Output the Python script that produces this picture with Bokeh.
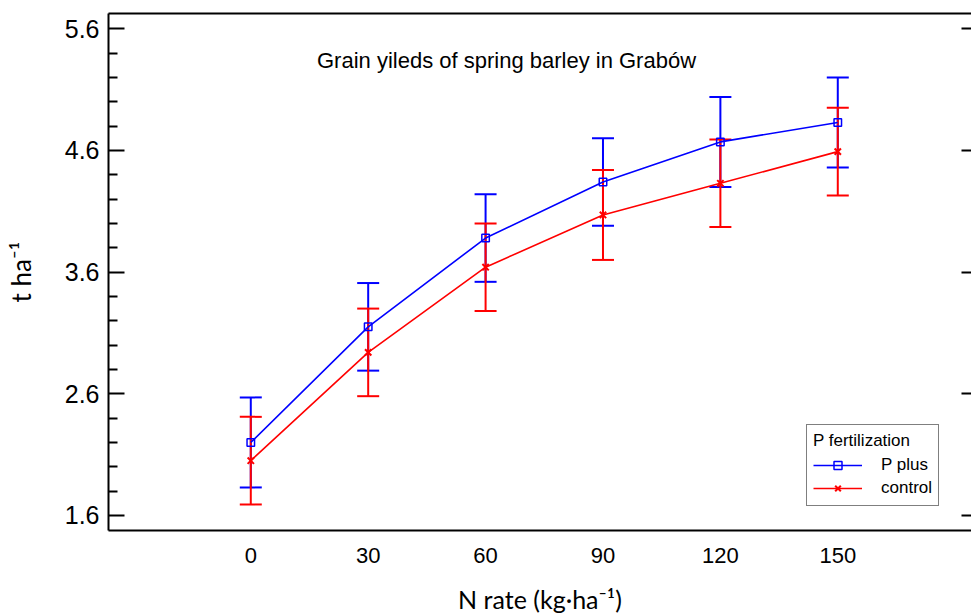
from bokeh.plotting import figure
from bokeh.models import (Range1d, LinearAxis, FixedTicker, Whisker, TeeHead, ColumnDataSource,
                          Legend, LegendItem, Label, CustomJSTickFormatter)
from bokeh.embed import file_html
from bokeh.resources import INLINE

# ---- data ----
N_RATE = [0, 30, 60, 90, 120, 150]
P_PLUS = [2.20, 3.15, 3.88, 4.34, 4.67, 4.83]
P_PLUS_ERR = [0.37, 0.36, 0.36, 0.36, 0.37, 0.37]
CONTROL = [2.05, 2.94, 3.64, 4.07, 4.33, 4.59]
CONTROL_ERR = [0.36, 0.36, 0.36, 0.37, 0.36, 0.36]
Y_TICKS = [1.6, 2.6, 3.6, 4.6, 5.6]
Y_MINOR = [1.8, 2.0, 2.2, 2.4, 2.8, 3.0, 3.2, 3.4, 3.8, 4.0, 4.2, 4.4, 4.8, 5.0, 5.2, 5.4]
TITLE = "Grain yileds of spring barley in Grabów"
X_LABEL = "N rate (kg·ha⁻¹)"
Y_LABEL = "t ha⁻¹"
LEGEND_TITLE = "P fertilization"
SERIES_NAMES = ["P plus", "control"]

BLUE = "#0000FF"
RED = "#FF0000"
SANS = "Liberation Sans"

p = figure(width=971, height=616,
           x_range=Range1d(-36.36, 184.17), y_range=Range1d(1.476, 5.7255),
           output_backend="svg", toolbar_location=None,
           x_axis_location=None, y_axis_location=None,
           min_border_left=108, min_border_right=0, min_border_top=13, min_border_bottom=85)
p.outline_line_color = None
p.grid.visible = False
p.background_fill_color = "white"
p.border_fill_color = "white"

# left axis
yaxis = LinearAxis(ticker=FixedTicker(ticks=Y_TICKS, minor_ticks=Y_MINOR), axis_label=Y_LABEL)
yaxis.axis_line_width = 2
yaxis.major_tick_line_width = 2
yaxis.minor_tick_line_width = 2
yaxis.major_tick_in = 16
yaxis.major_tick_out = 0
yaxis.minor_tick_in = 9
yaxis.minor_tick_out = 0
yaxis.major_label_standoff = 9
yaxis.major_label_text_font = SANS
yaxis.major_label_text_font_size = "25px"
yaxis.major_label_text_color = "black"
yaxis.axis_label_text_font = "Lato"
yaxis.axis_label_text_font_size = "26px"
yaxis.axis_label_text_font_style = "normal"
yaxis.axis_label_text_color = "black"
yaxis.axis_label_standoff = 25
p.add_layout(yaxis, "left")

# bottom axis
xaxis = LinearAxis(ticker=FixedTicker(ticks=N_RATE, minor_ticks=[]), axis_label=X_LABEL)
xaxis.axis_line_width = 2
xaxis.major_tick_in = 0
xaxis.major_tick_out = 0
xaxis.minor_tick_in = 0
xaxis.minor_tick_out = 0
xaxis.major_tick_line_color = None
xaxis.minor_tick_line_color = None
xaxis.major_label_standoff = 17
xaxis.major_label_text_font = SANS
xaxis.major_label_text_font_size = "22px"
xaxis.major_label_text_color = "black"
xaxis.axis_label_text_font = "Lato"
xaxis.axis_label_text_font_size = "25px"
xaxis.axis_label_text_font_style = "normal"
xaxis.axis_label_text_color = "black"
xaxis.axis_label_standoff = 18
p.add_layout(xaxis, "below")

# top frame line
top = LinearAxis(ticker=FixedTicker(ticks=[], minor_ticks=[]))
top.axis_line_width = 2
top.major_tick_in = 0
top.major_tick_out = 0
top.minor_tick_in = 0
top.minor_tick_out = 0
top.major_label_standoff = 0
top.major_label_text_font_size = "0px"
p.add_layout(top, "above")

# right ticks (no line)
right = LinearAxis(ticker=FixedTicker(ticks=Y_TICKS, minor_ticks=[]),
                   formatter=CustomJSTickFormatter(code="return ''"))
right.axis_line_color = None
right.major_tick_line_width = 2
right.major_tick_in = 10
right.major_tick_out = 0
right.minor_tick_line_color = None
right.minor_tick_in = 0
right.minor_tick_out = 0
right.major_label_standoff = 0
right.major_label_text_font_size = "0px"
p.add_layout(right, "right")

# error bars
def make_source(means, errs):
    return ColumnDataSource(dict(
        x=N_RATE, y=means,
        lower=[m - e for m, e in zip(means, errs)],
        upper=[m + e for m, e in zip(means, errs)],
    ))

src_p = make_source(P_PLUS, P_PLUS_ERR)
src_c = make_source(CONTROL, CONTROL_ERR)

for src, col in ((src_p, BLUE), (src_c, RED)):
    w = Whisker(source=src, base="x", upper="upper", lower="lower", dimension="height",
                line_color=col, line_width=2,
                upper_head=TeeHead(size=22, line_color=col, line_width=2),
                lower_head=TeeHead(size=22, line_color=col, line_width=2))
    p.add_layout(w)

lp = p.line("x", "y", source=src_p, line_color=BLUE, line_width=1.6)
mp = p.scatter("x", "y", source=src_p, marker="square", size=7.5, line_color=BLUE,
               fill_color=None, line_width=1.5)
lc = p.line("x", "y", source=src_c, line_color=RED, line_width=1.6)
mc = p.scatter("x", "y", source=src_c, marker="x", size=9, line_color=RED, line_width=2)

legend = Legend(items=[LegendItem(label=SERIES_NAMES[0], renderers=[lp, mp]),
                       LegendItem(label=SERIES_NAMES[1], renderers=[lc, mc])],
                location=(698, 24), title=LEGEND_TITLE)
legend.title_text_font = SANS
legend.title_text_font_size = "17px"
legend.title_text_font_style = "normal"
legend.title_text_color = "black"
legend.title_standoff = 3
legend.label_text_font = SANS
legend.label_text_font_size = "17px"
legend.label_text_color = "black"
legend.glyph_width = 49
legend.glyph_height = 20
legend.label_height = 22
legend.label_standoff = 19
legend.spacing = 1
legend.padding = 6
legend.margin = 0
legend.border_line_color = "black"
legend.border_line_width = 1
legend.background_fill_color = "white"
legend.background_fill_alpha = 1
p.add_layout(legend)

title = Label(x=398, y=470, x_units="screen", y_units="screen", text=TITLE,
              text_align="center", text_baseline="alphabetic",
              text_font=SANS, text_font_size="22px", text_color="black")
p.add_layout(title)

open("out.html", "w").write(file_html(p, INLINE))
